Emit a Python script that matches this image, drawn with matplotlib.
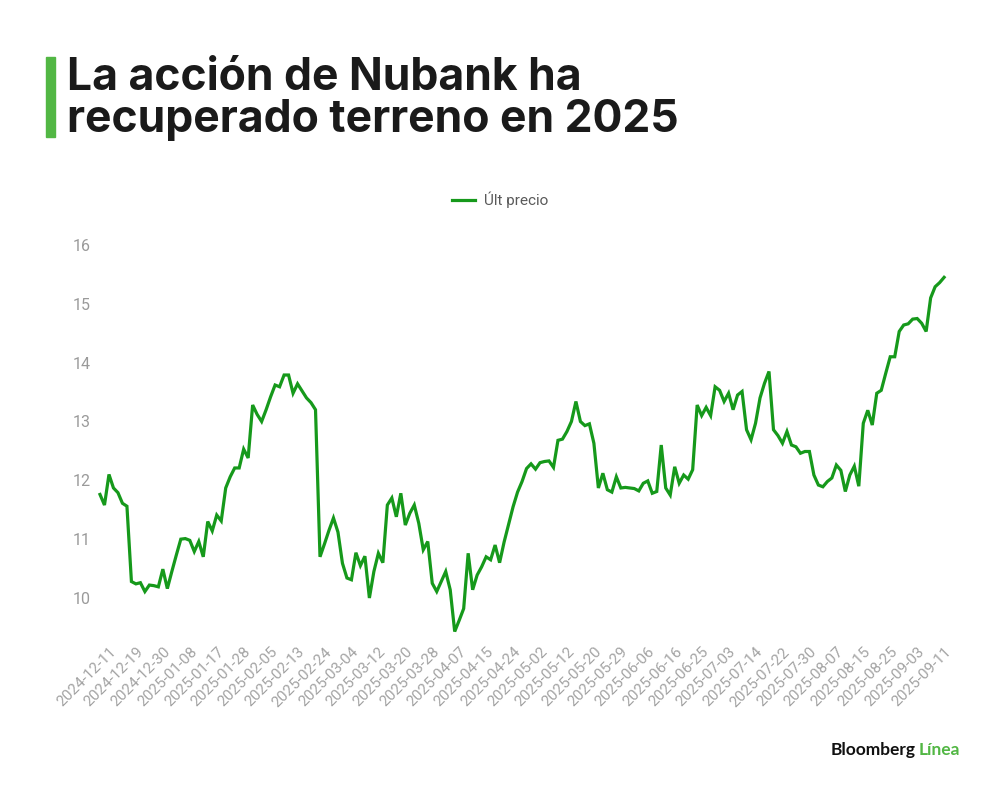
import pandas as pd
import matplotlib
matplotlib.use("Agg")
import matplotlib.pyplot as plt

# trading days (NYSE calendar) shown on the x axis
start_date = "2024-12-09"
end_date = "2025-09-11"
market_holidays = ["2024-12-25", "2025-01-01", "2025-01-09", "2025-01-20",
                   "2025-02-17", "2025-04-18", "2025-05-26", "2025-06-19",
                   "2025-07-04", "2025-09-01"]

# closing price
prices = [
    11.76, 11.58, 12.10, 11.87, 11.79, 11.61, 11.56, 10.28, 10.24, 10.26,
    10.11, 10.22, 10.21, 10.19, 10.49, 10.16, 10.45, 10.73, 11.00, 11.01,
    10.98, 10.79, 10.96, 10.70, 11.30, 11.14, 11.41, 11.31, 11.87, 12.06,
    12.21, 12.21, 12.53, 12.38, 13.28, 13.12, 13.00, 13.20, 13.42, 13.62,
    13.59, 13.79, 13.79, 13.48, 13.64, 13.52, 13.40, 13.32, 13.20,
    10.70, 10.92, 11.15, 11.36, 11.12, 10.59, 10.34, 10.31, 10.77, 10.55,
    10.71, 10.00, 10.45, 10.76, 10.60, 11.58, 11.70, 11.38, 11.78, 11.24,
    11.44, 11.58, 11.27, 10.82, 10.96, 10.25, 10.11, 10.28, 10.45, 10.14,
    9.43, 9.62, 9.82, 10.76, 10.14, 10.39, 10.53, 10.70, 10.65, 10.90,
    10.60, 10.95, 11.25, 11.55, 11.80, 11.98, 12.20, 12.28, 12.19,
    12.30, 12.32, 12.33, 12.22, 12.68, 12.70, 12.83, 13.00, 13.34, 13.00,
    12.93, 12.96, 12.63, 11.87, 12.12, 11.84, 11.80, 12.06, 11.87, 11.88,
    11.87, 11.86, 11.82, 11.95, 11.99, 11.78, 11.81, 12.60, 11.87, 11.75,
    12.23, 11.95, 12.09, 12.02, 12.18, 13.28, 13.10, 13.24, 13.10,
    13.59, 13.53, 13.34, 13.48, 13.20, 13.45, 13.51, 12.86, 12.69, 12.97,
    13.40, 13.65, 13.85, 12.86, 12.76, 12.63, 12.83, 12.60, 12.57, 12.46,
    12.49, 12.49, 12.09, 11.92, 11.89, 11.98, 12.04, 12.26, 12.17, 11.81,
    12.09, 12.24, 11.90, 12.97, 13.19, 12.94, 13.48, 13.53, 13.82, 14.10,
    14.10, 14.53, 14.64, 14.66, 14.74, 14.75, 14.67, 14.53, 15.10, 15.29,
    15.36, 15.45,
]

y_ticks = [10, 11, 12, 13, 14, 15, 16]
label_every = 6
first_label = 2

dates = pd.bdate_range(start_date, end_date, freq="C", holidays=market_holidays)
labels = [d.strftime("%Y-%m-%d") for d in dates]
x = list(range(len(prices)))

line_green = "#16991b"
bar_green = "#52b744"
tick_grey = "#a3a3a3"

fig = plt.figure(figsize=(10, 7.9), dpi=100)
ax = fig.add_axes([0.0955, 0.1909, 0.8531, 0.5139])

ax.plot(x, prices, color=line_green, linewidth=2.3, label="Últ precio",
        solid_joinstyle="miter")
ax.set_xlim(-1, 189)
ax.set_ylim(9.3, 16.2)

for s in ax.spines.values():
    s.set_visible(False)

tick_pos = x[first_label::label_every]
ax.set_xticks(tick_pos)
ax.set_xticklabels([labels[i] for i in tick_pos], rotation=45, ha="right",
                   rotation_mode="anchor", fontsize=11, color=tick_grey,
                   family="Roboto")
ax.set_yticks(y_ticks)
ax.set_yticklabels([str(v) for v in y_ticks], fontsize=11.5, color="#9a9a9a",
                   family="Roboto", ha="left")
ax.tick_params(axis="x", length=0, pad=4)
ax.tick_params(axis="y", length=0, pad=16.5)

leg = ax.legend(loc="center", bbox_to_anchor=(0.5, 1 - 200 / 790),
                bbox_transform=fig.transFigure, frameon=False,
                handlelength=1.5, handletextpad=0.55,
                prop={"family": "Roboto", "size": 11})
for t in leg.get_texts():
    t.set_color("#5a5a5a")

# title with green accent bar
fig.patches.append(plt.Rectangle((46 / 1000, 1 - 137 / 790), 9 / 1000, 80 / 790,
                                 transform=fig.transFigure, color=bar_green))
fig.text(67 / 1000, 1 - 90 / 790, "La acción de Nubank ha", fontsize=32,
         fontweight="bold", family="Inter", color="#1a1a1a", va="baseline")
fig.text(67 / 1000, 1 - 132 / 790, "recuperado terreno en 2025", fontsize=32,
         fontweight="bold", family="Inter", color="#1a1a1a", va="baseline")

# brand mark
fig.text(916 / 1000, 1 - 755 / 790, "Bloomberg", fontsize=12.5, fontweight="bold",
         family="Lato", color="#111111", ha="right", va="baseline")
fig.text(919 / 1000, 1 - 755 / 790, "Línea", fontsize=12.5, fontweight="bold",
         family="Lato", color=bar_green, ha="left", va="baseline")

plt.savefig("out.png", dpi=100)
